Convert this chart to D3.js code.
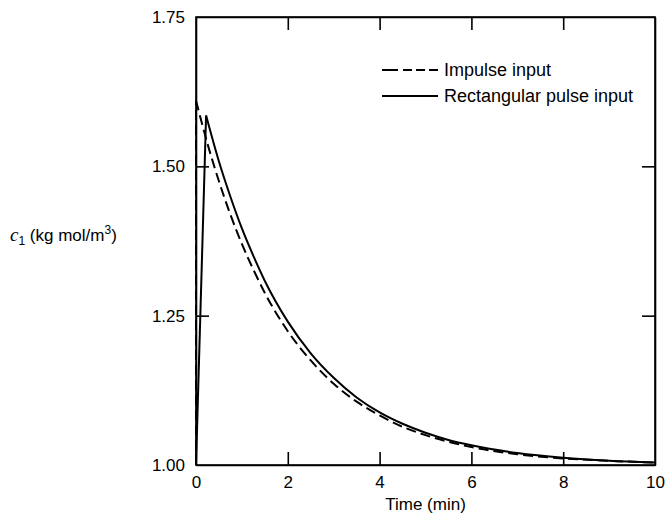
<!DOCTYPE html>
<html>
<head>
<meta charset="utf-8">
<script src="https://cdn.jsdelivr.net/npm/d3@7"></script>
<style>
  body { margin: 0; background: #fff; }
  svg { display: block; font-family: "Liberation Sans", Arial, sans-serif; }
  .axis path, .axis line { stroke: #000; stroke-width: 1.6px; }
  .axis text { font-size: 17px; fill: #000; }
  .line { fill: none; stroke: #000; stroke-width: 2px; }
</style>
</head>
<body>
<svg id="chart"></svg>
<script>
(function () {
  'use strict';

  // time (min)
  var impulseTime = [0, 0.25, 0.5, 0.75, 1, 1.25, 1.5, 2, 2.5, 3, 3.5, 4, 4.5, 5, 5.5, 6, 7, 8, 9, 10];
  // c1 (kg mol/m3), impulse input
  var impulseC = [1.61, 1.538, 1.475, 1.419, 1.370, 1.327, 1.288, 1.224, 1.175, 1.136, 1.106, 1.083, 1.064, 1.050, 1.039, 1.030, 1.018, 1.011, 1.007, 1.004];

  var pulseTime = [0, 0.22, 0.5, 0.75, 1, 1.25, 1.5, 2, 2.5, 3, 3.5, 4, 4.5, 5, 5.5, 6, 7, 8, 9, 10];
  // c1 (kg mol/m3), rectangular pulse input
  var pulseC = [1.0, 1.585, 1.508, 1.449, 1.396, 1.350, 1.308, 1.240, 1.187, 1.146, 1.113, 1.088, 1.069, 1.054, 1.042, 1.033, 1.020, 1.012, 1.007, 1.004];

  var xTicks = [0, 2, 4, 6, 8, 10];
  var yTicks = [1.00, 1.25, 1.50, 1.75];
  var legendLabels = ['Impulse input', 'Rectangular pulse input'];

  var width = 669, height = 516;
  var margin = {top: 17, right: 14, bottom: 51, left: 196};
  var w = width - margin.left - margin.right;
  var h = height - margin.top - margin.bottom;

  var svg = d3.select('#chart')
    .attr('width', width)
    .attr('height', height);

  var g = svg.append('g')
    .attr('transform', 'translate(' + margin.left + ',' + margin.top + ')');

  var x = d3.scaleLinear().domain([0, 10]).range([0, w]);
  var y = d3.scaleLinear().domain([1.0, 1.75]).range([h, 0]);

  var tick = 13;

  // bottom / left with labels, top / right just ticks; all ticks point inward
  g.append('g')
    .attr('class', 'axis')
    .attr('transform', 'translate(0,' + h + ')')
    .call(d3.axisBottom(x).tickValues(xTicks).tickSizeInner(-tick).tickSizeOuter(0).tickPadding(8)
      .tickFormat(d3.format('d')))
    .selectAll('text').attr('dy', '0.9em');
  g.append('g')
    .attr('class', 'axis')
    .call(d3.axisTop(x).tickValues(xTicks.slice(1, -1)).tickSizeInner(-tick).tickSizeOuter(0).tickFormat(''));
  g.append('g')
    .attr('class', 'axis')
    .call(d3.axisLeft(y).tickValues(yTicks).tickSizeInner(-tick).tickSizeOuter(0).tickPadding(11)
      .tickFormat(d3.format('.2f')));
  g.append('g')
    .attr('class', 'axis')
    .attr('transform', 'translate(' + w + ',0)')
    .call(d3.axisRight(y).tickValues(yTicks.slice(1, -1)).tickSizeInner(-tick).tickSizeOuter(0).tickFormat(''));

  // frame
  g.append('rect')
    .attr('width', w)
    .attr('height', h)
    .style('fill', 'none')
    .style('stroke', '#000')
    .style('stroke-width', 1.6);

  // ticks at the frame ends aren't wanted
  g.selectAll('.axis .tick line')
    .filter(function (d) { return d === 0 || d === 10 || d === 1.0 || d === 1.75; })
    .remove();

  var line = d3.line()
    .x(function (d) { return x(d[0]); })
    .y(function (d) { return y(d[1]); })
    .curve(d3.curveMonotoneX);
  var straight = d3.line()
    .x(function (d) { return x(d[0]); })
    .y(function (d) { return y(d[1]); });

  var impulse = d3.zip(impulseTime, impulseC);
  var pulse = d3.zip(pulseTime, pulseC);

  // impulse jumps straight up at t = 0
  g.append('path')
    .attr('class', 'line')
    .attr('d', straight([[impulseTime[0], 1.0], impulse[0]]))
    .style('stroke-dasharray', '10,5');
  g.append('path')
    .datum(impulse)
    .attr('class', 'line')
    .attr('d', line)
    .style('stroke-dasharray', '10,5');

  // pulse: straight rise to a sharp peak, then the decay
  g.append('path')
    .datum(pulse.slice(0, 2))
    .attr('class', 'line')
    .attr('d', straight);
  g.append('path')
    .datum(pulse.slice(1))
    .attr('class', 'line')
    .attr('d', line);

  // legend
  var legend = svg.append('g')
    .attr('transform', 'translate(382,70)');
  var items = legend.selectAll('g')
    .data(legendLabels)
    .enter()
    .append('g')
    .attr('transform', function (d, i) { return 'translate(0,' + (i * 26) + ')'; });
  items.append('line')
    .attr('x1', 0).attr('x2', 56)
    .attr('y1', 0).attr('y2', 0)
    .style('stroke', '#000')
    .style('stroke-width', 2)
    .style('stroke-dasharray', function (d, i) { return i === 0 ? '16,5,9,4,9,4,9' : null; });
  items.append('text')
    .attr('x', 62)
    .attr('y', 6)
    .style('font-size', '18px')
    .text(function (d) { return d; });

  // axis titles
  svg.append('text')
    .attr('x', margin.left + x(5))
    .attr('y', 510)
    .style('text-anchor', 'middle')
    .style('font-size', '17px')
    .text('Time (min)');

  var ylab = svg.append('text')
    .attr('x', 10)
    .attr('y', 241)
    .style('font-size', '17px');
  ylab.append('tspan').style('font-style', 'italic').style('font-family', '"Liberation Serif", serif').style('font-size', '19px').text('c');
  ylab.append('tspan').attr('dy', 4).style('font-size', '12px').text('1');
  ylab.append('tspan').attr('dy', -4).text(' (kg mol/m');
  ylab.append('tspan').attr('dy', -7).style('font-size', '12px').text('3');
  ylab.append('tspan').attr('dy', 7).text(')');
}());
</script>
</body>
</html>
